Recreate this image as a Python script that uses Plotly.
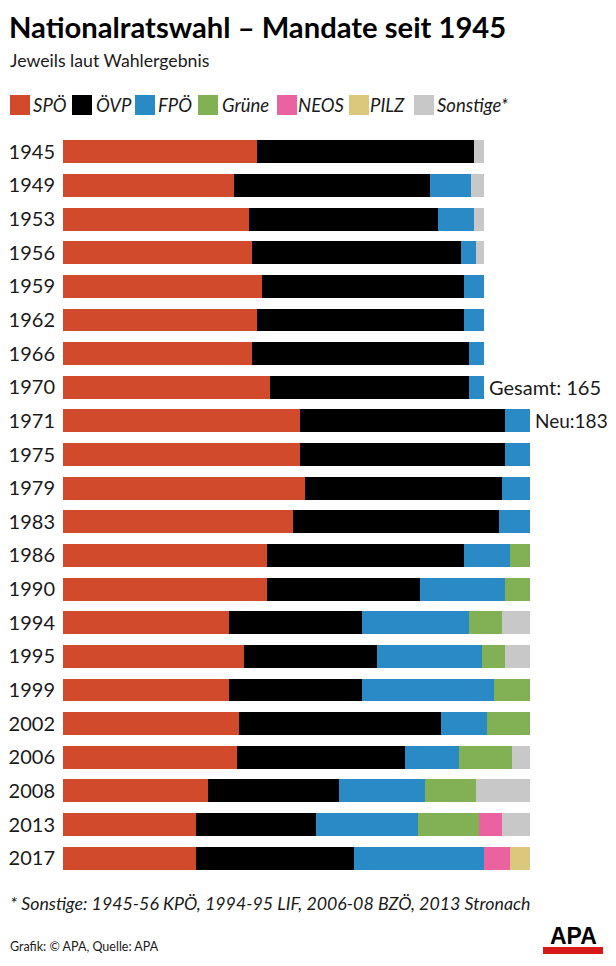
import plotly.graph_objects as go

years = ["1945", "1949", "1953", "1956", "1959", "1962", "1966", "1970", "1971", "1975", "1979",
         "1983", "1986", "1990", "1994", "1995", "1999", "2002", "2006", "2008", "2013", "2017"]
spoe =     [76, 67, 73, 74, 78, 76, 74, 81, 93, 93, 95, 90, 80, 80, 65, 71, 65, 69, 68, 57, 52, 52]
oevp =     [85, 77, 74, 82, 79, 81, 85, 78, 80, 80, 77, 81, 77, 60, 52, 52, 52, 79, 66, 51, 47, 62]
fpoe =     [0, 16, 14, 6, 8, 8, 6, 6, 10, 10, 11, 12, 18, 33, 42, 41, 52, 18, 21, 34, 40, 51]
gruene =   [0, 0, 0, 0, 0, 0, 0, 0, 0, 0, 0, 0, 8, 10, 13, 9, 14, 17, 21, 20, 24, 0]
neos =     [0, 0, 0, 0, 0, 0, 0, 0, 0, 0, 0, 0, 0, 0, 0, 0, 0, 0, 0, 0, 9, 10]
pilz =     [0, 0, 0, 0, 0, 0, 0, 0, 0, 0, 0, 0, 0, 0, 0, 0, 0, 0, 0, 0, 0, 8]
sonstige = [4, 5, 4, 3, 0, 0, 0, 0, 0, 0, 0, 0, 0, 0, 11, 10, 0, 0, 7, 21, 11, 0]

party_names = ["SPÖ", "ÖVP", "FPÖ", "Grüne", "NEOS", "PILZ", "Sonstige*"]
party_values = [spoe, oevp, fpoe, gruene, neos, pilz, sonstige]
party_colors = ["#d14a2b", "#000000", "#2a8ac5", "#82b055", "#ea62a0", "#dcc87c", "#c8c8c8"]

totals_note = [("1970", 165, "Gesamt: 165"), ("1971", 183, "Neu:183")]

# page body has an 8px margin; figure coordinates = screen pixel - OFF
OFF = 8
W, H = 616, 966
PLOT_L, PLOT_R, PLOT_T, PLOT_B = 63, 616, 135, 875   # screen pixels
L = PLOT_L - OFF
R = W - (PLOT_R - OFF)
T = PLOT_T - OFF
B = H - (PLOT_B - OFF)
PW, PH = W - L - R, H - T - B
SCALE = 2.552  # px per seat


def px(p):
    return (p - OFF - L) / PW


def py(p):
    return (H - B - (p - OFF)) / PH


FONT = "Lato"
TXT = "#1a1a1a"

fig = go.Figure()
for name, vals, col in zip(party_names, party_values, party_colors):
    fig.add_trace(go.Bar(
        y=years, x=vals, name=name, orientation="h",
        marker=dict(color=col, line=dict(width=0)),
        showlegend=False, hoverinfo="x+y+name",
    ))

annotations = []
shapes = []

# custom legend
leg_sq = [10, 72, 135, 198, 277, 349, 414]
leg_tx = [31, 94, 156, 220, 296, 368, 435]
for name, col, sx, tx in zip(party_names, party_colors, leg_sq, leg_tx):
    shapes.append(dict(type="rect", xref="paper", yref="paper",
                       x0=px(sx), x1=px(sx + 20), y0=py(115), y1=py(95),
                       fillcolor=col, line=dict(width=0)))
    annotations.append(dict(text=f"<i>{name}</i>", xref="paper", yref="paper",
                            x=px(tx), y=py(105), xanchor="left", yanchor="middle",
                            showarrow=False, font=dict(family=FONT, size=18.5, color=TXT)))

# total notes (category axis: use the row index)
for (yr, tot, txt), fs in zip(totals_note, [20, 19]):
    annotations.append(dict(text=txt, x=tot, y=years.index(yr), xref="x", yref="y",
                            xanchor="left", yanchor="middle", xshift=3, showarrow=False,
                            font=dict(family=FONT, size=fs, color=TXT)))

# subtitle
annotations.append(dict(text="Jeweils laut Wahlergebnis", xref="paper", yref="paper",
                        x=px(8), y=py(61), xanchor="left", yanchor="middle", showarrow=False,
                        font=dict(family=FONT, size=17.7, color=TXT)))
# footnote
annotations.append(dict(text="<i>* Sonstige: 1945-56 KPÖ, 1994-95 LIF, 2006-08 BZÖ, 2013 Stronach</i>",
                        xref="paper", yref="paper", x=px(8), y=py(903), xanchor="left",
                        yanchor="middle", showarrow=False,
                        font=dict(family=FONT, size=17.8, color=TXT)))
# source
annotations.append(dict(text="Grafik: © APA, Quelle: APA", xref="paper", yref="paper",
                        x=px(8), y=py(947), xanchor="left", yanchor="middle", showarrow=False,
                        font=dict(family=FONT, size=12.5, color=TXT)))
# APA logo
shapes.append(dict(type="rect", xref="paper", yref="paper", x0=px(543), x1=px(603),
                   y0=py(954), y1=py(947), fillcolor="#d7191c", line=dict(width=0)))
annotations.append(dict(text="<b>APA</b>", xref="paper", yref="paper", x=px(573), y=py(947),
                        xanchor="center", yanchor="bottom", showarrow=False, borderpad=0,
                        yshift=-3,
                        font=dict(family="Liberation Sans", size=23, color="#000000")))

fig.update_layout(
    width=W, height=H,
    margin=dict(l=L, r=R, t=T, b=B, pad=0, autoexpand=False),
    barmode="stack", bargap=0.32,
    plot_bgcolor="white", paper_bgcolor="white",
    title=dict(text="<b>Nationalratswahl – Mandate seit 1945</b>", x=(9 - OFF) / W, xanchor="left",
               y=1 - 20 / H, yanchor="middle", automargin=False,
               font=dict(family=FONT, size=29.2, color="#000000")),
    xaxis=dict(range=[0, PW / SCALE], visible=False, fixedrange=True, automargin=False),
    yaxis=dict(type="category", range=[len(years) - 0.5, -0.5], showgrid=False, zeroline=False,
               showline=False, ticks="", ticklabelstandoff=7, automargin=False,
               tickfont=dict(family=FONT, size=20, color=TXT), fixedrange=True),
    annotations=annotations, shapes=shapes,
    showlegend=False,
)

fig.write_html("out.html")
